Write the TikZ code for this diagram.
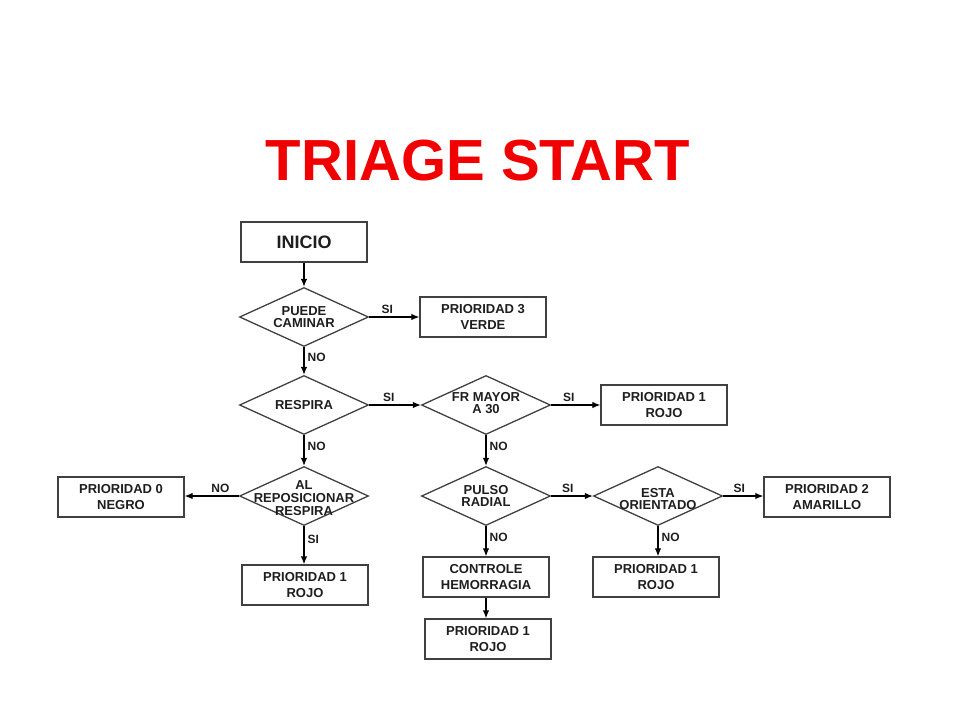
\documentclass[tikz,border=0pt]{standalone}
\usepackage{fontspec}
\setmainfont{Liberation Sans}
\usetikzlibrary{shapes.geometric,arrows.meta}
\definecolor{rojotit}{RGB}{240,0,0}
\definecolor{tinta}{RGB}{30,30,30}
\tikzstyle{caja} = [draw=tinta!85, line width=1.3pt, minimum width=126pt, minimum height=40pt, inner sep=0pt, align=center, text=tinta, font=\bfseries\fontsize{13}{16}\selectfont]
\tikzstyle{rombo} = [diamond, draw=tinta!85, line width=1.3pt, minimum width=129pt, minimum height=59pt, inner sep=0pt]
\tikzstyle{rtexto} = [align=center, inner sep=0pt, text=tinta, font=\bfseries\fontsize{13}{12.5}\selectfont]
\tikzstyle{etiq} = [inner sep=3pt, text=tinta, font=\bfseries\fontsize{12}{14}\selectfont]

\begin{document}
\begin{tikzpicture}[x=1pt,y=-1pt,>={Latex[length=8pt,width=6.5pt]},line width=1.2pt]
    \useasboundingbox (0,0) rectangle (960,720);
    \node[text=rojotit, font=\bfseries\fontsize{58}{60}\selectfont] (titulo) at (478,161) {TRIAGE START};

    % columna izquierda
    \node[caja, font=\bfseries\fontsize{18}{20}\selectfont] (inicio) at (304,242) {INICIO};
    \node[rombo] (camina) at (304,317) {};
    \node[rtexto] (camina-t) at (camina) {PUEDE\\CAMINAR};
    \node[caja] (verde) at (483,317) {PRIORIDAD 3\\VERDE};
    \node[rombo] (respira) at (304,405) {};
    \node[rtexto] (respira-t) at (respira) {RESPIRA};
    \node[rombo] (reposic) at (304,496) {};
    \node[rtexto, font=\bfseries\fontsize{13}{13}\selectfont] (reposic-t) at ([yshift=-2pt]reposic) {AL\\REPOSICIONAR\\RESPIRA};
    \node[caja] (negro) at (121,497) {PRIORIDAD 0\\NEGRO};
    \node[caja] (rojoa) at (305,585) {PRIORIDAD 1\\ROJO};

    % columna central
    \node[rombo] (fr) at (486,405) {};
    \node[rtexto] (fr-t) at ([yshift=2pt]fr) {FR MAYOR\\A 30};
    \node[caja] (rojob) at (664,405) {PRIORIDAD 1\\ROJO};
    \node[rombo] (pulso) at (486,496) {};
    \node[rtexto] (pulso-t) at (pulso) {PULSO\\RADIAL};
    \node[caja] (hemorr) at (486,577) {CONTROLE\\HEMORRAGIA};
    \node[caja] (rojoc) at (488,639) {PRIORIDAD 1\\ROJO};

    % columna derecha
    \node[rombo] (orient) at (658,496) {};
    \node[rtexto] (orient-t) at ([yshift=-3pt]orient) {ESTA\\ORIENTADO};
    \node[caja] (amarillo) at (827,497) {PRIORIDAD 2\\AMARILLO};
    \node[caja] (rojod) at (656,577) {PRIORIDAD 1\\ROJO};

    \draw[->] (inicio) -- (camina);
    \draw[->] (camina.east) -- (camina.east -| verde.west) node [etiq,pos=0.36,above] {SI};
    \draw[->] (camina) -- (respira) node [etiq,pos=0.38,right] {NO};
    \draw[->] (respira) -- (fr) node [etiq,pos=0.38,above] {SI};
    \draw[->] (respira) -- (reposic) node [etiq,pos=0.38,right] {NO};
    \draw[->] (reposic.west) -- (reposic.west -| negro.east) node [etiq,pos=0.34,above] {NO};
    \draw[->] (reposic.south) -- (reposic.south |- rojoa.north) node [etiq,pos=0.35,right] {SI};
    \draw[->] (fr) -- (rojob) node [etiq,pos=0.36,above] {SI};
    \draw[->] (fr) -- (pulso) node [etiq,pos=0.38,right] {NO};
    \draw[->] (pulso) -- (orient) node [etiq,pos=0.4,above] {SI};
    \draw[->] (pulso) -- (hemorr) node [etiq,pos=0.38,right] {NO};
    \draw[->] (orient) -- (orient -| amarillo.west) node [etiq,pos=0.4,above] {SI};
    \draw[->] (orient.south) -- (orient.south |- rojod.north) node [etiq,pos=0.38,right] {NO};
    \draw[->] (hemorr) -- (hemorr |- rojoc.north);
\end{tikzpicture}
\end{document}
